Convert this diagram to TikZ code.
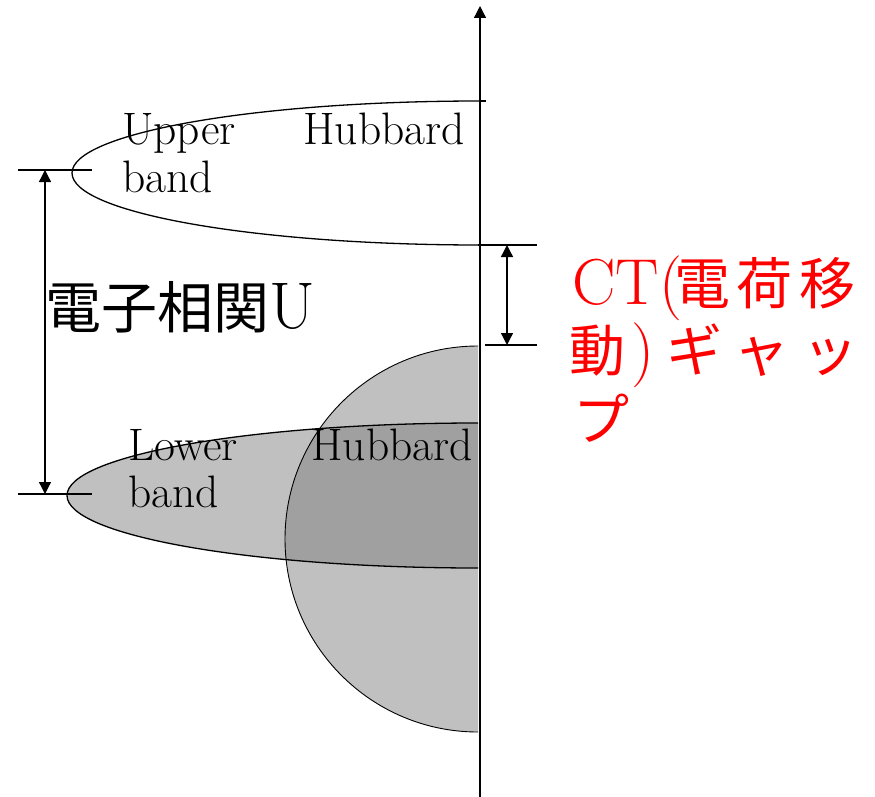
\documentclass[tikz,border=0pt]{standalone}
\usepackage{fontspec}
\newfontfamily\cjk{Noto Sans CJK JP}
\usetikzlibrary{arrows.meta}
\definecolor{bandgray}{RGB}{192,192,192}
\definecolor{overlapgray}{RGB}{160,160,160}
\definecolor{ctred}{RGB}{255,0,0}
\begin{document}
\begin{tikzpicture}[x=1pt,y=-1pt,
  line/.style={line width=1.3pt, black},
  thinline/.style={line width=0.9pt, black},
  dimarrow/.style={line width=1.3pt, {Triangle[length=12pt,width=12pt]}-{Triangle[length=12pt,width=12pt]}},
  latin/.style={inner sep=0pt, font=\fontsize{45.5}{50}\selectfont},
  big/.style={inner sep=0pt, font=\fontsize{56}{60}\selectfont},
  ctchar/.style={inner sep=0pt, anchor=base, text=ctred, font=\fontsize{56}{60}\selectfont\cjk},
  ctlatin/.style={inner sep=0pt, text=ctred, font=\fontsize{65}{70}\selectfont},
]
\useasboundingbox (0,0) rectangle (875,797);

% fills
\begin{scope}
  \clip (0,0) rectangle (478,797);
  \fill[bandgray] (478,539) circle[radius=193];
  \fill[bandgray] (478,495.5) ellipse[x radius=411, y radius=72.5];
  \begin{scope}
    \clip (478,539) circle[radius=193];
    \fill[overlapgray] (478,495.5) ellipse[x radius=411, y radius=72.5];
  \end{scope}
  \draw[thinline] (478,539) circle[radius=193];
  \draw[line] (478,495.5) ellipse[x radius=411, y radius=72.5];
\end{scope}
\begin{scope}
  \clip (0,0) rectangle (480,797);
  \draw[line] (480,173) ellipse[x radius=408, y radius=72];
\end{scope}

% axis
\coordinate (axb) at (480,797);
\coordinate (axt) at (480,6);
\draw[line, -{Triangle[length=12pt,width=12pt]}] (axb) -- (axt);

% ticks
\coordinate (ut1) at (18,170); \coordinate (ut2) at (92,170);
\coordinate (lt1) at (18,494); \coordinate (lt2) at (92,494);
\coordinate (tt0) at (480,101); \coordinate (tt3) at (486,101);
\coordinate (ct1a) at (478,245); \coordinate (ct1b) at (537,245);
\coordinate (ct2a) at (485,345); \coordinate (ct2b) at (537,345);
\draw[line] (ut1) -- (ut2);
\draw[line] (lt1) -- (lt2);
\draw[line] (tt0) -- (tt3);
\draw[line] (ct1a) -- (ct1b);
\draw[line] (ct2a) -- (ct2b);

% dimension arrows
\coordinate (ua) at (45,170); \coordinate (ub) at (45,494);
\coordinate (ca) at (507,245); \coordinate (cb) at (507,345);
\draw[dimarrow] (ua) -- (ub);
\draw[dimarrow] (ca) -- (cb);

% band labels
\node[latin, anchor=base west] (up1) at (122,145) {Upper};
\node[latin, anchor=base east] (up2) at (465,145) {Hubbard};
\node[latin, anchor=base west] (up3) at (122,192) {band};
\node[latin, anchor=base west] (lo1) at (128,460) {Lower};
\node[latin, anchor=base east] (lo2) at (473,460) {Hubbard};
\node[latin, anchor=base west] (lo3) at (128,507) {band};

% correlation U
\node[big, anchor=base west] (corr) at (45,328) {{\cjk 電子相関}\fontsize{66}{70}\selectfont U};

% CT gap label
\node[ctlatin, anchor=base west] (ctA) at (572,304) {CT(};
\node[ctchar] (ctB) at (702,304) {電};
\node[ctchar] (ctC) at (764,304) {荷};
\node[ctchar] (ctD) at (827,304) {移};
\node[ctchar] (ctE) at (597,371) {動};
\node[ctlatin, anchor=base] (ctF) at (643,371) {)};
\node[ctchar] (ctG) at (694,371) {ギ};
\node[ctchar] (ctH) at (761,371) {ャ};
\node[ctchar] (ctI) at (830,371) {ッ};
\node[ctchar] (ctJ) at (601,440) {プ};
\end{tikzpicture}
\end{document}
